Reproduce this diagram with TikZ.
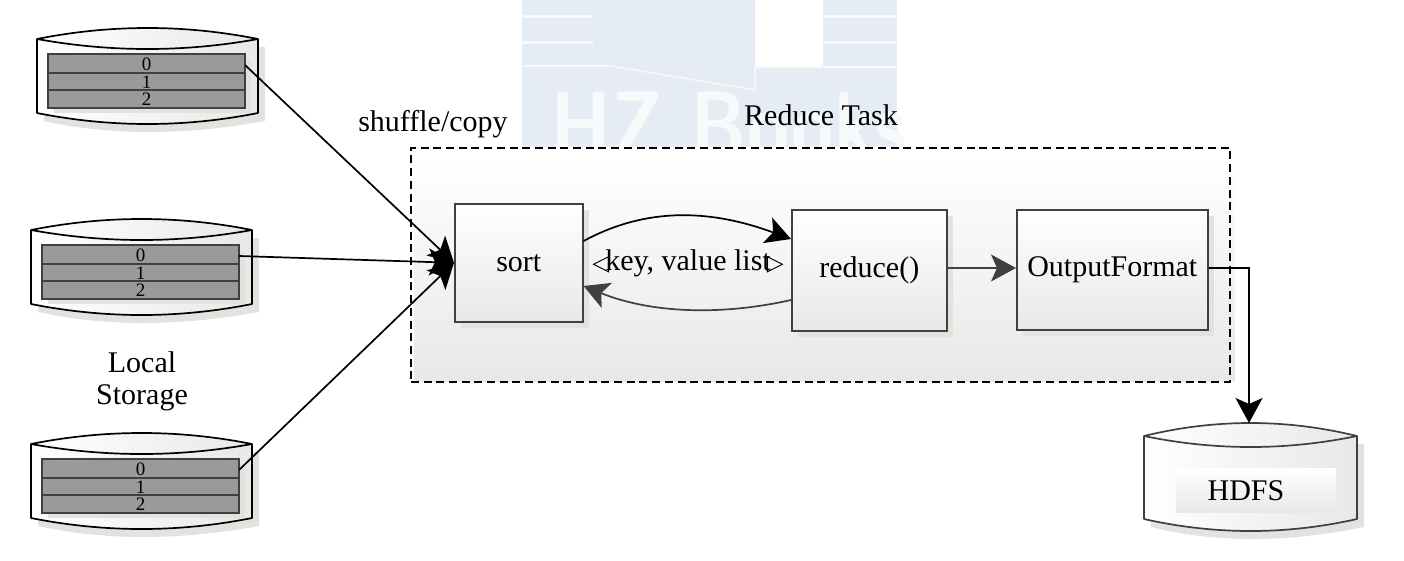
\documentclass[tikz,border=0pt]{standalone}
\usepackage{fontspec}
\setmainfont{Liberation Serif}
\newfontfamily\symfont{DejaVu Sans}
\usetikzlibrary{arrows.meta,shadows,calc}
\definecolor{edgegray}{HTML}{404040}
\definecolor{shadowgray}{HTML}{E2E3DF}
\definecolor{panelgray}{HTML}{E8E8E6}
\definecolor{rowgray}{HTML}{9A9A9A}
\definecolor{markblue}{HTML}{E6ECF4}
\definecolor{markpale}{HTML}{F8F9FB}
\tikzset{
  bigtext/.style={font=\fontsize{30}{34}\selectfont,inner sep=0pt,text=black},
  smalltext/.style={font=\fontsize{19}{19}\selectfont,inner sep=0pt,text=black},
  procbox/.style={draw=edgegray,line width=1.6pt,top color=white,bottom color=panelgray,
    drop shadow={shadow xshift=6pt,shadow yshift=-6pt,fill=shadowgray,opacity=1},
    inner sep=0pt,anchor=north west},
  rowbox/.style={draw=edgegray,line width=1.6pt,fill=rowgray,minimum width=197pt,inner sep=0pt},
  flow/.style={line width=1.7pt,-{Stealth[length=25pt,width=27pt,inset=6pt]}},
}
\newcommand{\diskbody}[8]{% x1 x2 ycorner ytop ylens ybotcorner ybot colour
  \fill[shadowgray] (#1+7,#3+8) -- (#2+7,#3+8) -- (#2+7,#6+8)
    .. controls ({#1/2+#2/2+(#2-#1)/6},{#6+8+(#7-#6)*4/3}) and ({#1/2+#2/2-(#2-#1)/6},{#6+8+(#7-#6)*4/3}) .. (#1+7,#6+8) -- cycle;
  \shade[left color=white,right color=panelgray,draw=#8,line width=1.7pt,line join=round]
    (#1,#3) .. controls ({#1/2+#2/2-(#2-#1)/6},{#3+(#4-#3)*4/3}) and ({#1/2+#2/2+(#2-#1)/6},{#3+(#4-#3)*4/3}) .. (#2,#3) -- (#2,#6)
    .. controls ({#1/2+#2/2+(#2-#1)/6},{#6+(#7-#6)*4/3}) and ({#1/2+#2/2-(#2-#1)/6},{#6+(#7-#6)*4/3}) .. (#1,#6) -- cycle;
  \draw[#8,line width=1.7pt] (#1,#3) .. controls ({#1/2+#2/2-(#2-#1)/6},{#3+(#5-#3)*4/3}) and ({#1/2+#2/2+(#2-#1)/6},{#3+(#5-#3)*4/3}) .. (#2,#3);
}
\newcommand{\storagedisk}[3]{% name dx dy
  \begin{scope}[shift={(#2,#3)}]
    \diskbody{37}{258}{39}{28}{49}{113}{124}{black}
    \fill[shadowgray] (54,60) rectangle (251,113);
    \node[rowbox,minimum height=19.5pt,smalltext] (#1a) at (146.5,64) {0};
    \node[rowbox,minimum height=17.5pt,smalltext] (#1b) at (146.5,82) {1};
    \node[rowbox,minimum height=17.5pt,smalltext] (#1c) at (146.5,99) {2};
    \coordinate (#1out) at (245,65);
  \end{scope}
}
\begin{document}
\begin{tikzpicture}[x=1pt,y=-1pt]
\useasboundingbox (0,0) rectangle (1404,560);
% faint watermark
\begin{scope}
  \clip (0,0) rectangle (1404,147);
  \fill[markblue] (522,0) rectangle (897,147);
  \fill[white] (755,0) rectangle (823,66);
  \fill[markpale] (522,15) rectangle (593,18);
  \fill[markpale] (522,41) rectangle (593,44);
  \fill[markpale] (823,15) rectangle (897,18);
  \fill[markpale] (823,41) rectangle (897,44);
  \fill[markpale] (522,65) rectangle (610,67);
  \draw[markpale,line width=1.5pt] (610,66) -- (755,90) -- (755,66);
  \fill[markpale] (755,66) rectangle (897,68);
  \node[font=\sffamily\bfseries\fontsize{96}{96}\selectfont,text=markpale,anchor=base west,inner sep=0pt,xscale=.8] (mark) at (550,158) {HZ Books};
\end{scope}
% panel
\shade[top color=white,bottom color=panelgray] (414,155) rectangle (1235,381);
\node[draw=black,dash pattern=on 8pt off 4.7pt,line width=1.6pt,anchor=north west,minimum width=819pt,minimum height=234pt,inner sep=0pt] (panel) at (410,147) {};
% boxes
\node[procbox,minimum width=128pt,minimum height=118pt,bigtext] (sort) at (454,203) {\raisebox{-1pt}{sort}};
\node[procbox,minimum width=155pt,minimum height=121pt,bigtext] (reduce) at (791,209) {reduce()};
\node[procbox,minimum width=191pt,minimum height=120pt,bigtext] (output) at (1016,209) {OutputFormat};
% disks
\storagedisk{d1}{0}{0}
\storagedisk{d2}{-6}{191}
\storagedisk{d3}{-6}{405}
\diskbody{1144}{1357}{436}{423}{447}{519}{531}{edgegray}
\shade[top color=white,bottom color=panelgray] (1176,468) rectangle (1336,512);
\node[bigtext] (hdfs) at (1246,491) {HDFS};
\coordinate (hdfstop) at (1249,423);
% labels
\node[bigtext] (local) at (142,362) {Local};
\node[bigtext] (storage) at (142,398) {Storage};
\node[bigtext] (shuffle) at (433,124) {shuffle/copy};
\node[bigtext] (rtask) at (821,115) {Reduce Task};
\node[bigtext] (kv) at (688,263) {{\symfont\fontsize{22}{22}\selectfont\char"25C1}\kern-4pt key, value list\kern-4pt{\symfont\fontsize{22}{22}\selectfont\char"25B7}};
% connectors
\draw[flow,black] (d1out) -- (sort.west);
\draw[flow,black] (d2out) -- (sort.west);
\draw[flow,black] (d3out) -- (sort.west);
\draw[flow,black] (sort.east |- 0,241) .. controls (650,205) and (715,211) .. (reduce.west |- 0,239);
\draw[flow,edgegray] (reduce.west |- 0,300) .. controls (720,316) and (650,313) .. (sort.east |- 0,286);
\draw[flow,edgegray] (reduce.east |- 0,268) -- (output.west |- 0,268);
\draw[flow,black] (output.east |- 0,268) -- (hdfstop |- 0,268) -- (hdfstop);
\end{tikzpicture}
\end{document}
